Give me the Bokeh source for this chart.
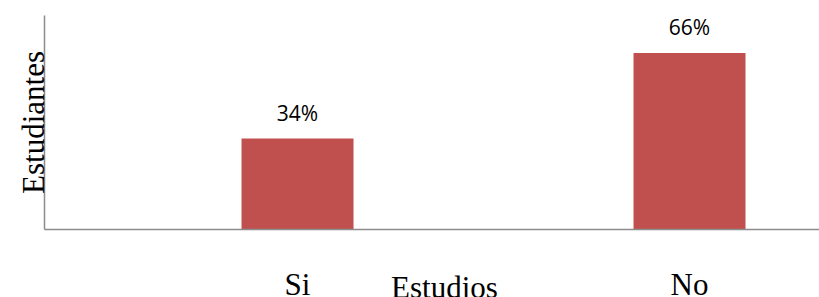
import math
from bokeh.plotting import figure
from bokeh.models import ColumnDataSource, LabelSet, Label, Range1d, FixedTicker
from bokeh.core.properties import value
from bokeh.embed import file_html
from bokeh.resources import INLINE

# ---- data ----
categories = ["Si", "No"]
values = [34, 66]
value_labels = [f"{v}%" for v in values]
x_title = "Estudios"
y_title = "Estudiantes"

BAR = "#C0504D"
AXIS = "#8c8c8c"
SERIF = "'Liberation Serif', 'Times New Roman', serif"
SANS = "'Open Sans'"

src = ColumnDataSource(dict(
    x=list(range(len(categories))),
    cat=categories,
    val=values,
    lab=value_labels,
    zero=[0] * len(categories),
))

X0, X1 = -0.7577, 1.3316
Y0, Y1 = -25.42, 85.61
AX_LEFT = -0.6454

p = figure(width=819, height=297, output_backend="svg", toolbar_location=None,
           x_range=Range1d(X0, X1), y_range=Range1d(Y0, Y1),
           min_border_left=0, min_border_right=0, min_border_top=0,
           min_border_bottom=0)
p.outline_line_color = None
p.grid.visible = False
p.background_fill_color = "white"
p.border_fill_color = "white"

p.vbar(x="x", top="val", width=0.2857, source=src, fill_color=BAR, line_color=None)

for ax in (p.xaxis[0], p.yaxis[0]):
    ax.ticker = FixedTicker(ticks=[])
    ax.axis_line_color = AXIS
    ax.axis_line_width = 1.5
    ax.major_tick_line_color = None
    ax.minor_tick_line_color = None
    ax.major_tick_out = 0
    ax.major_tick_in = 0
    ax.minor_tick_out = 0
    ax.minor_tick_in = 0
    ax.major_label_standoff = 0
p.xaxis[0].fixed_location = 0
p.xaxis[0].bounds = (AX_LEFT, X1)
p.yaxis[0].fixed_location = AX_LEFT
p.yaxis[0].bounds = (0, 80)

# value labels
p.add_layout(LabelSet(x="x", y="val", text="lab", source=src, y_offset=26,
                      text_align="center", text_baseline="middle",
                      text_font=value(SANS), text_font_size="21px", text_color="black"))
# category labels
p.add_layout(LabelSet(x="x", y="zero", text="cat", source=src, y_offset=-65,
                      text_align="center", text_baseline="alphabetic",
                      text_font=value(SERIF), text_font_size="31px", text_color="black"))
# axis titles
p.add_layout(Label(x=0.375, y=0, y_offset=-58, text=x_title,
                   text_align="center", text_baseline="alphabetic",
                   text_font=SERIF, text_font_size="31px", text_color="black"))
p.add_layout(Label(x=-0.6735, y=40, text=y_title,
                   angle=math.pi / 2, text_align="center", text_baseline="alphabetic",
                   text_font=SERIF, text_font_size="31px", text_color="black"))

open("out.html", "w").write(file_html(p, INLINE))
